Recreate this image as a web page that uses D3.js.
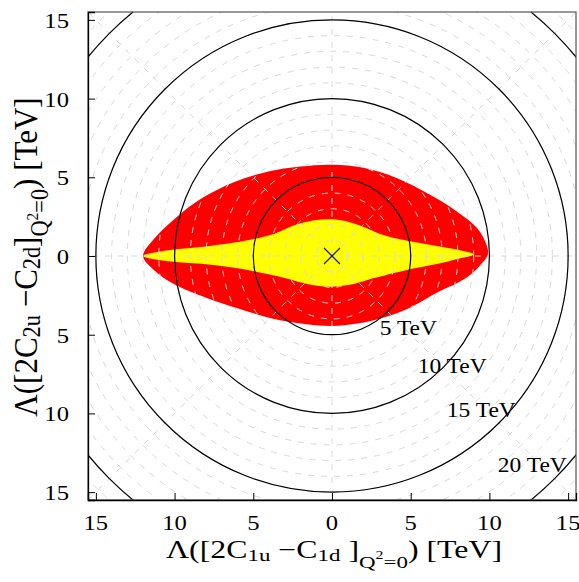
<!DOCTYPE html>
<html><head><meta charset="utf-8">
<script src="https://cdn.jsdelivr.net/npm/d3@7"></script>
<style>body{margin:0;background:#fff}</style>
</head><body><svg id="c" width="579" height="582"></svg>
<script>
// ---------------- data ----------------
const tickValues = [-15, -10, -5, 0, 5, 10, 15];
const contourRadii = [5, 10, 15, 20];
const contourLabels = ["5 TeV", "10 TeV", "15 TeV", "20 TeV"];
const contourLabelAt = [[3.03, -5.04], [5.44, -7.43], [7.29, -10.23], [10.53, -13.72]];
const gridRadii = [1,2,3,4,5,6,7,8,9,10,11,12,13,14,15,16,17,18,19,20,21,22];
const gridAngles = [0, 45, 90, 135, 180, 225, 270, 315];
const bestFit = [[0, 0]];
// outer (red) region
const outerRegion = [
  [-12.0, 0.0], [-11.3, 1.1], [-9.9, 2.45], [-8.3, 3.65], [-6.2, 4.7], [-4.1, 5.35],
  [-2.0, 5.68], [0.0, 5.8], [2.0, 5.6], [4.1, 4.95], [6.2, 3.9], [7.9, 2.85],
  [9.2, 1.8], [9.8, 0.75], [9.9, 0.1], [9.4, -0.6], [8.75, -1.23], [7.9, -1.75],
  [6.8, -2.25], [4.7, -3.4], [2.6, -4.1], [1.5, -4.3], [0.0, -4.45], [-1.6, -4.34],
  [-3.75, -3.98], [-5.9, -3.35], [-8.0, -2.65], [-10.1, -1.75], [-11.3, -0.9]
];
// inner (yellow) region
const innerRegion = [
  [-12.0, 0.0], [-10.4, 0.36], [-8.3, 0.57], [-6.2, 0.85], [-4.9, 1.1], [-3.65, 1.42],
  [-2.4, 1.95], [-1.1, 2.27], [0.0, 2.33], [0.9, 2.2], [2.0, 1.84], [3.0, 1.42],
  [4.1, 1.11], [6.2, 0.72], [7.9, 0.41], [9.0, 0.1], [7.9, -0.2], [6.8, -0.48],
  [4.7, -0.9], [2.6, -1.42], [1.5, -1.75], [0.0, -1.95], [-1.5, -1.8], [-2.8, -1.45],
  [-4.1, -1.15], [-6.2, -0.75], [-8.3, -0.5], [-10.4, -0.34]
];

// ---------------- drawing ----------------
const FONT = "'Liberation Serif','Times New Roman',serif";
const SX = 1.12;
const svg = d3.select("#c");
const L = 88, R = 576, T = 12, B = 500;
const x = d3.scaleLinear().domain([-15.5, 15.5]).range([L, R]);
const y = d3.scaleLinear().domain([-15.5, 15.5]).range([B, T]);
const k = x(1) - x(0);

svg.append("defs").append("clipPath").attr("id", "clip")
  .append("rect").attr("x", L).attr("y", T).attr("width", R - L).attr("height", B - T);
const plot = svg.append("g").attr("clip-path", "url(#clip)");

const line = d3.line().x(d => x(d[0])).y(d => y(d[1])).curve(d3.curveCatmullRomClosed.alpha(0.5));
plot.append("path").attr("d", line(outerRegion)).attr("fill", "#ff0000");
plot.append("path").attr("d", line(innerRegion)).attr("fill", "#ffff00");

// grid
plot.selectAll("circle.grid").data(gridRadii).join("circle").attr("class", "grid")
  .attr("cx", x(0)).attr("cy", y(0)).attr("r", d => d * k)
  .attr("fill", "none").attr("stroke", "#d9d9d9").attr("stroke-width", 1)
  .attr("stroke-dasharray", "6,7");
plot.selectAll("line.grid").data(gridAngles).join("line").attr("class", "grid")
  .attr("x1", x(0)).attr("y1", y(0))
  .attr("x2", d => x(23 * Math.cos(d * Math.PI / 180)))
  .attr("y2", d => y(23 * Math.sin(d * Math.PI / 180)))
  .attr("stroke", "#d9d9d9").attr("stroke-width", 1).attr("stroke-dasharray", "6,7");

// contours
plot.selectAll("circle.cont").data(contourRadii).join("circle").attr("class", "cont")
  .attr("cx", x(0)).attr("cy", y(0)).attr("r", d => d * k)
  .attr("fill", "none").attr("stroke", "#000").attr("stroke-width", 1.2);

// best fit marker
bestFit.forEach(p => {
  const cx = x(p[0]), cy = y(p[1]), s = 8;
  plot.append("path").attr("d", `M${cx - s},${cy - s}L${cx + s},${cy + s}M${cx - s},${cy + s}L${cx + s},${cy - s}`)
    .attr("stroke", "#222").attr("stroke-width", 1.3);
});

// frame
svg.append("rect").attr("x", L).attr("y", T).attr("width", R - L).attr("height", B - T)
  .attr("fill", "none").attr("stroke", "#555").attr("stroke-width", 1.2);

// axes with inward ticks
const xAxis = d3.axisBottom(x).tickValues(tickValues).tickSize(-7).tickFormat("");
const yAxis = d3.axisLeft(y).tickValues(tickValues).tickSize(-7).tickFormat("");
svg.append("g").attr("transform", `translate(0,${B})`).call(xAxis)
  .call(g => g.select(".domain").attr("stroke", "#000").attr("stroke-width", 1.3))
  .call(g => g.selectAll(".tick line").attr("stroke", "#000"));
svg.append("g").attr("transform", `translate(${L},0)`).call(yAxis)
  .call(g => g.select(".domain").attr("stroke", "#000").attr("stroke-width", 1.3))
  .call(g => g.selectAll(".tick line").attr("stroke", "#000"));

function sText(px, py, anchor, size, str) {
  const g = svg.append("g").attr("transform", `translate(${px},${py}) scale(${SX},1)`);
  return g.append("text").attr("text-anchor", anchor).attr("font-family", FONT)
    .attr("font-size", size).attr("fill", "#000").text(str);
}

// tick labels
tickValues.forEach(v => {
  sText(x(v), 530, "middle", 22, String(Math.abs(v)));
  sText(69, Math.max(y(v) + 8, 24), "end", 22, String(Math.abs(v)));
});

// contour labels
contourLabels.forEach((t, i) => {
  const p = contourLabelAt[i];
  sText(x(p[0]), y(p[1]), "start", 21, t);
});

// axis titles
function richTitle(g, M, a, b, gap) {
  const t = g.append("text").attr("text-anchor", "middle").attr("font-family", FONT)
    .attr("font-size", M).attr("fill", "#000");
  const parts = [
    ["Λ([2C", 1, 0], [a, 0.72, 3], [" −C", 1, -3], [b, 0.72, 3], [gap + "]", 1, -3],
    ["Q", 0.72, 10], ["2", 0.5, -9], ["=0", 0.72, 9], [")", 1, -10], [" [TeV]", 1, 0]
  ];
  parts.forEach(p => t.append("tspan").attr("font-size", M * p[1]).attr("dy", p[2]).text(p[0]));
  return t;
}
const gx = svg.append("g").attr("transform", `translate(334,558) scale(1.3,1)`);
richTitle(gx, 24.5, "1u", "1d", " ");
const gy = svg.append("g").attr("transform", `translate(37,257) rotate(-90) scale(1,1.1)`);
richTitle(gy, 31, "2u", "2d", "");
</script>
</body></html>
